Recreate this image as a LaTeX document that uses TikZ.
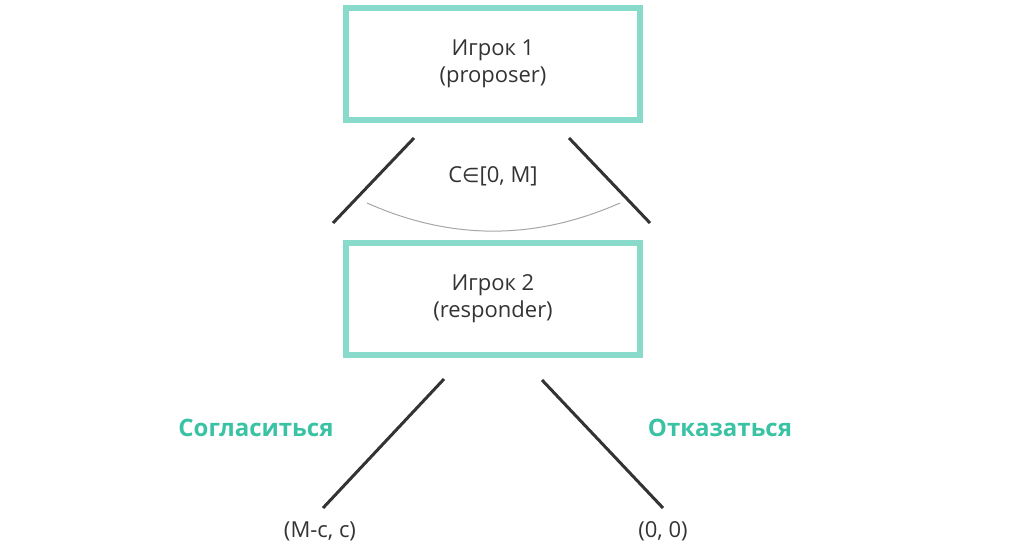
\documentclass[tikz,border=0pt]{standalone}
\usepackage{fontspec}
\setmainfont{Open Sans}
\newfontfamily\symfont{DejaVu Sans}
\definecolor{boxteal}{RGB}{136,219,203}
\definecolor{labteal}{RGB}{58,194,164}
\definecolor{ink}{RGB}{51,51,51}
\begin{document}
\begin{tikzpicture}[x=1pt,y=-1pt,
  player/.style={draw=boxteal,line width=6pt,minimum width=294pt,minimum height=112pt,inner sep=0pt,align=center,font=\fontsize{22}{27}\selectfont,text=ink},
  branch/.style={draw=ink,line width=3pt},
  choice/.style={font=\bfseries\fontsize{24}{28}\selectfont,text=labteal},
  payoff/.style={font=\fontsize{22}{26}\selectfont,text=ink}]
\useasboundingbox (0,0) rectangle (1024,550);
\node[player] (p1) at (493,64) {Игрок 1\\(proposer)};
\node[player] (p2) at (493,299) {Игрок 2\\(responder)};
\coordinate (a1) at (414,138); \coordinate (a2) at (333,223);
\coordinate (b1) at (569,138); \coordinate (b2) at (650,223);
\draw[branch] (a1) -- (a2);
\draw[branch] (b1) -- (b2);
\coordinate (r1) at (367,203); \coordinate (r2) at (620,203);
\draw[gray!70,line width=1pt] (r1) .. controls (451,240.5) and (535,240.5) .. (r2);
\node[payoff] (c) at (493,176) {C{\symfont\fontsize{20}{26}\selectfont∈}[0, M]};
\coordinate (l1) at (444,379); \coordinate (l2) at (323,508);
\coordinate (m1) at (542,380); \coordinate (m2) at (663,508);
\draw[branch] (l1) -- (l2);
\draw[branch] (m1) -- (m2);
\node[choice] (yes) at (256,428) {Согласиться};
\node[choice] (no) at (720,428) {Отказаться};
\node[payoff] (pl) at (320,531) {(M-c, c)};
\node[payoff] (pr) at (663,531) {(0, 0)};
\end{tikzpicture}
\end{document}
